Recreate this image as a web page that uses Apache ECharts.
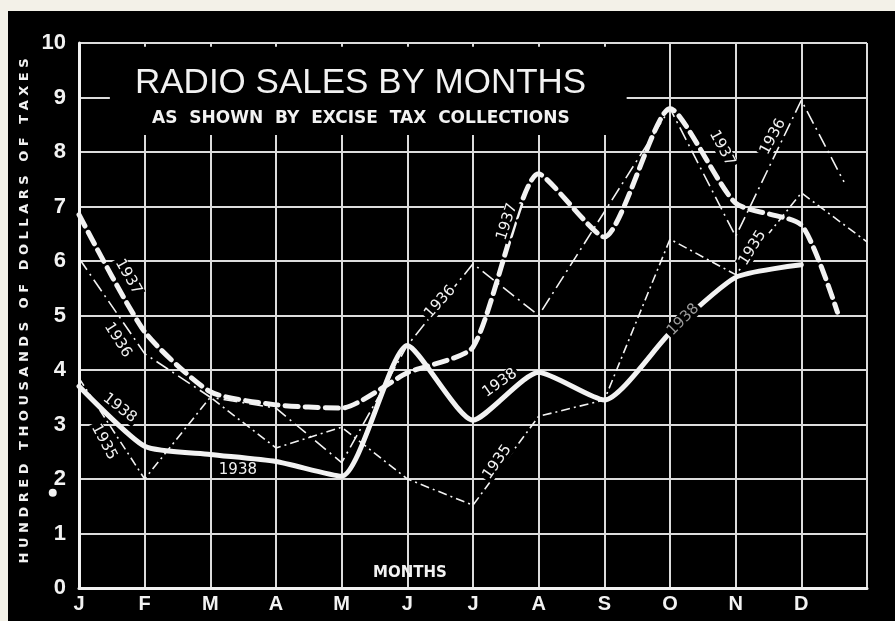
<!DOCTYPE html>
<html>
<head>
<meta charset="utf-8">
<script src="https://cdn.jsdelivr.net/npm/echarts@6/dist/echarts.min.js"></script>
<style>
  html, body { margin: 0; padding: 0; background: #f3f1e8; }
  #container { position: absolute; left: 8px; top: 11px; width: 887px; height: 610px; background: #000; }
</style>
</head>
<body>
<div id="container"></div>
<script>
// month labels, last one is the next january (unlabelled edge)
var months = ['J', 'F', 'M', 'A', 'M', 'J', 'J', 'A', 'S', 'O', 'N', 'D', ''];

// hundred thousands of dollars of taxes, J..D
var v1935 = [3.85, 2.0, 3.5, 2.57, 2.95, 2.0, 1.52, 3.15, 3.45, 6.4, 5.75, 7.25];
var v1936 = [6.05, 4.3, 3.5, 3.3, 2.3, 4.45, 5.95, 5.0, 6.9, 8.8, 6.45, 8.95];
var v1937 = [6.85, 4.7, 3.6, 3.36, 3.3, 3.95, 4.42, 7.6, 6.44, 8.8, 7.06, 6.66];
var v1938 = [3.7, 2.6, 2.45, 2.32, 2.05, 4.45, 3.08, 3.96, 3.45, 4.68, 5.7, 5.93];

// lines that run on past december
var tail1935 = [12, 6.35];
var tail1936 = [11.65, 7.45];
var tail1937 = [11.55, 5.06];

// year tags written along the lines: [text, month position, value, angle]
var yearTags = [
    ['1937', 0.75, 5.71, -60],
    ['1936', 0.59, 4.55, -58],
    ['1938', 0.62, 3.3, -38],
    ['1935', 0.38, 2.68, -62],
    ['1938', 2.42, 2.17, 0],
    ['1936', 5.5, 5.25, 48],
    ['1937', 6.52, 6.72, 72],
    ['1938', 6.41, 3.76, 35],
    ['1935', 6.37, 2.31, 55],
    ['1938', 9.2, 4.92, 45],
    ['1937', 9.79, 8.07, -62],
    ['1936', 10.57, 8.28, 62],
    ['1935', 10.26, 6.24, 58]
];

var titleText = 'RADIO SALES BY MONTHS';
var subText = 'AS  SHOWN  BY  EXCISE  TAX  COLLECTIONS';
var yName = 'HUNDRED THOUSANDS OF DOLLARS OF TAXES';

function toPoints(vals, tail) {
    var pts = vals.map(function (v, i) { return [i, v]; });
    if (tail) pts.push(tail);
    return pts;
}

// spread the letters out like the lettering on the original
function spaced(str) {
    return str.split(' ').map(function (w) { return w.split('').join(' '); }).join('   ');
}

var white = '#f2f2f2';
var chart = echarts.init(document.getElementById('container'));

var option = {
    backgroundColor: '#000',
    animation: false,
    title: [{
        text: titleText,
        left: 122,
        top: 50,
        z: 10,
        textStyle: { color: white, fontFamily: 'Liberation Sans', fontWeight: 'normal', fontSize: 35 }
    }, {
        text: subText,
        left: 139,
        top: 94,
        z: 10,
        textStyle: { color: white, fontFamily: 'DejaVu Sans', fontWeight: 'bold', fontSize: 17 }
    }],
    grid: {
        left: 71,
        right: 28,
        top: 32,
        bottom: 33
    },
    xAxis: {
        type: 'value',
        min: 0,
        max: 12,
        interval: 1,
        axisLine: { show: true, lineStyle: { color: white, width: 3 } },
        axisTick: { show: false },
        splitLine: { show: true, lineStyle: { color: '#dcdcdc', width: 2 } },
        axisLabel: {
            color: white,
            fontFamily: 'Liberation Sans',
            fontWeight: 'bold',
            fontSize: 20,
            margin: 6,
            formatter: function (v) { return months[v] || ''; }
        }
    },
    yAxis: {
        type: 'value',
        min: 0,
        max: 10,
        interval: 1,
        name: '  ' + spaced(yName),
        nameLocation: 'middle',
        nameGap: 48,
        nameRotate: 90,
        nameTextStyle: { color: white, fontFamily: 'DejaVu Sans', fontWeight: 'bold', fontSize: 13 },
        axisLine: { show: true, lineStyle: { color: white, width: 3 } },
        axisTick: { show: false },
        splitLine: { show: true, lineStyle: { color: '#dcdcdc', width: 2 } },
        axisLabel: {
            color: white,
            fontFamily: 'Liberation Sans',
            fontWeight: 'bold',
            fontSize: 22,
            margin: 13
        }
    },
    series: [{
        name: '1935',
        type: 'line',
        symbol: 'none',
        data: toPoints(v1935, tail1935),
        lineStyle: { color: white, width: 1.6, type: [9, 4, 2, 4] }
    }, {
        name: '1936',
        type: 'line',
        symbol: 'none',
        data: toPoints(v1936, tail1936),
        lineStyle: { color: white, width: 1.6, type: [14, 5, 2, 5] }
    }, {
        name: '1937',
        type: 'line',
        symbol: 'none',
        smooth: 0.2,
        data: toPoints(v1937, tail1937),
        lineStyle: { color: white, width: 5, type: [13, 7], cap: 'round' }
    }, {
        name: '1938',
        type: 'line',
        symbol: 'none',
        smooth: 0.2,
        data: toPoints(v1938),
        lineStyle: { color: white, width: 5, cap: 'round', join: 'round' }
    }]
};

chart.setOption(option);

// graphics anchored to the grid once it exists
var px = function (x, y) { return chart.convertToPixel({ gridIndex: 0 }, [x, y]); };
var boxA = px(0.47, 9.93);
var boxB = px(8.34, 8.31);
var graphics = [{
    type: 'rect',
    z: 1,
    shape: { x: boxA[0], y: boxA[1], width: boxB[0] - boxA[0], height: boxB[1] - boxA[1] },
    style: { fill: '#000' }
}];

var mPos = px(5.04, 0.27);
graphics.push({
    type: 'text',
    z: 20,
    x: mPos[0],
    y: mPos[1],
    style: { text: 'MONTHS', fill: white, font: 'bold 15px "DejaVu Sans"', align: 'center', verticalAlign: 'middle' }
});

var dotPos = px(-0.4, 1.75);
graphics.push({
    type: 'circle',
    z: 20,
    shape: { cx: dotPos[0], cy: dotPos[1], r: 4 },
    style: { fill: white }
});

yearTags.forEach(function (t, i) {
    var p = px(t[1], t[2]);
    graphics.push({
        type: 'text',
        z: 30,
        x: p[0],
        y: p[1],
        rotation: t[3] * Math.PI / 180,
        style: {
            text: t[0],
            fill: i === 9 ? '#9a9a9a' : white,
            font: '15px "DejaVu Sans"',
            align: 'center',
            verticalAlign: 'middle',
            backgroundColor: '#000',
            padding: [0, 2]
        }
    });
});

chart.setOption({ graphic: graphics });
</script>
</body>
</html>
